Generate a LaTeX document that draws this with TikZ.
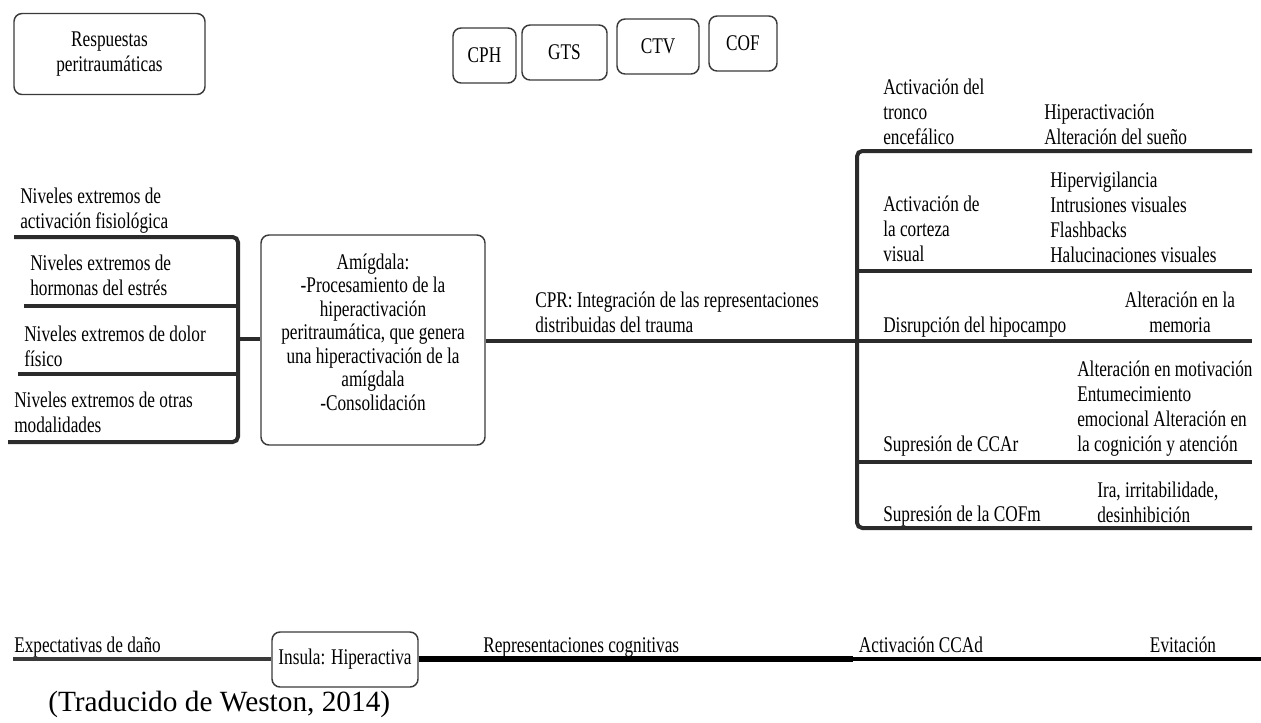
\documentclass[tikz,border=0pt]{standalone}
\usepackage{fontspec}
\setmainfont[FakeStretch=0.77]{Liberation Serif}
\newfontfamily\capfont{Liberation Serif}
\definecolor{linegray}{HTML}{2B2B2B}
\definecolor{boxgray}{HTML}{3A3A3A}
\tikzset{
  txt/.style={inner sep=0pt, align=left, anchor=base west, font=\fontsize{16.8}{18.75}\selectfont},
  txtc/.style={inner sep=0pt, align=center, anchor=base, font=\fontsize{16.8}{18.75}\selectfont},
  rbox/.style={draw=boxgray, line width=1.1pt, rounded corners=6pt, align=center, inner sep=0pt, font=\fontsize{16.8}{18.75}\selectfont},
  brk/.style={draw=linegray, line width=3pt, rounded corners=4pt},
  bline/.style={draw=black, line width=3.8pt}
}
\begin{document}
\begin{tikzpicture}[x=0.75pt,y=-0.75pt]
\useasboundingbox (0,0) rectangle (1261,722);

% top boxes
\node[rbox, minimum width=191*0.75pt, minimum height=81*0.75pt] (resp) at (109.5,54) {Respuestas\\peritraumáticas};
\node[rbox, minimum width=63*0.75pt, minimum height=55*0.75pt] (cph) at (484.5,55.5) {CPH};
\node[rbox, minimum width=85*0.75pt, minimum height=55*0.75pt] (gts) at (564.5,52.5) {GTS};
\node[rbox, minimum width=82*0.75pt, minimum height=55*0.75pt] (ctv) at (658,46.5) {CTV};
\node[rbox, minimum width=68*0.75pt, minimum height=55*0.75pt] (cof) at (743,43.5) {COF};

% amygdala
\node[rbox, minimum width=224*0.75pt, minimum height=210*0.75pt] (amy) at (373,340) {};
\node[txtc, font=\fontsize{16.8}{17.6}\selectfont] (amyt) at (373,410)
  {Amígdala:\\-Procesamiento de la\\hiperactivación\\peritraumática, que genera\\una hiperactivación de la\\amígdala\\-Consolidación};

% left labels (anchored at last line baseline)
\node[txt] (n1) at (20,228) {Niveles extremos de\\activación fisiológica};
\node[txt] (n2) at (30,295) {Niveles extremos de\\hormonas del estrés};
\node[txt] (n3) at (24,366) {Niveles extremos de dolor\\físico};
\node[txt] (n4) at (14,432) {Niveles extremos de otras\\modalidades};

% left bracket
\coordinate (l1) at (14,237);
\coordinate (l2) at (24,306);
\coordinate (l3) at (18,374);
\coordinate (l4) at (8,442);
\coordinate (lj) at (238,339);
\draw[brk] (l1) -- (238,237) -- (238,442) -- (l4);
\draw[brk] (l2) -- (238,306);
\draw[brk] (l3) -- (238,374);
\draw[brk] (lj) -- (amy.west |- lj);

% CPR
\node[txt] (cpr) at (535,332) {CPR: Integración de las representaciones\\distribuidas del trauma};
\coordinate (rj) at (857,341);
\draw[brk] (amy.east |- rj) -- (rj);

% right bracket
\coordinate (r1) at (1252,151);
\coordinate (r2) at (1252,271);
\coordinate (r3) at (1252,341);
\coordinate (r4) at (1252,462);
\coordinate (r5) at (1252,528);
\draw[brk] (r1) -- (857,151) -- (857,528) -- (r5);
\draw[brk] (857,271) -- (r2);
\draw[brk] (rj) -- (r3);
\draw[brk] (857,462) -- (r4);

% right labels (anchored at last line baseline)
\node[txt] (a1) at (883,144) {Activación del\\tronco\\encefálico};
\node[txt] (b1) at (1044,144) {Hiperactivación\\Alteración del sueño};
\node[txt] (a2) at (883,261) {Activación de\\la corteza\\visual};
\node[txt] (b2) at (1050,262) {Hipervigilancia\\Intrusiones visuales\\Flashbacks\\Halucinaciones visuales};
\node[txt] (a3) at (883,332) {Disrupción del hipocampo};
\node[txtc] (b3) at (1180,332) {Alteración en la\\memoria};
\node[txt] (b4) at (1077,451) {Alteración en motivación\\Entumecimiento\\emocional Alteración en\\la cognición y atención};
\node[txt] (a4) at (883,451) {Supresión de CCAr};
\node[txt] (a5) at (883,521) {Supresión de la COFm};
\node[txt] (b5) at (1097,522) {Ira, irritabilidade,\\desinhibición};

% bottom row
\node[rbox, minimum width=146*0.75pt, minimum height=55*0.75pt] (ins) at (345,659.5) {Insula: Hiperactiva};
\coordinate (bs) at (13,659);
\coordinate (bm1) at (853,659);
\coordinate (bm2) at (1093,659);
\coordinate (be) at (1261,659);
\draw[draw=boxgray, line width=3pt] (bs) -- (ins.west |- bs);
\draw[bline] (ins.east |- bs) -- (bm1);
\draw[draw=black, line width=3pt] (bm1) -- (bm2);
\draw[draw=black, line width=2.3pt] (bm2) -- (be);
\node[txt] (e1) at (14,652) {Expectativas de daño};
\node[txt] (e2) at (483,652) {Representaciones cognitivas};
\node[txtc] (e3) at (921,652) {Activación CCAd};
\node[txtc] (e4) at (1183,652) {Evitación};

\node[inner sep=0pt, anchor=base west, font=\capfont\fontsize{22}{24}\selectfont] (cap) at (48,711) {(Traducido de Weston, 2014)};
\end{tikzpicture}
\end{document}
